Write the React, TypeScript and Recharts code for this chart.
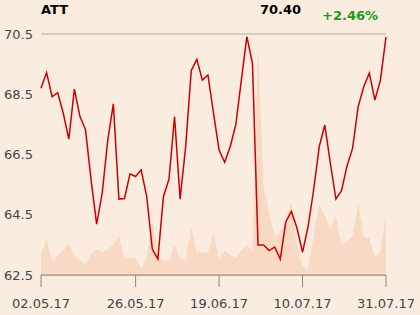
import { ComposedChart, Line, Area, XAxis, YAxis, CartesianGrid } from 'recharts';

const dates = [
  '02.05.17', '03.05.17', '04.05.17', '05.05.17', '08.05.17', '09.05.17', '10.05.17', '11.05.17', '12.05.17',
  '15.05.17', '16.05.17', '17.05.17', '18.05.17', '19.05.17', '22.05.17', '23.05.17', '24.05.17', '26.05.17',
  '29.05.17', '30.05.17', '31.05.17', '01.06.17', '02.06.17', '06.06.17', '07.06.17', '08.06.17', '09.06.17',
  '12.06.17', '13.06.17', '14.06.17', '15.06.17', '16.06.17', '19.06.17',
  '20.06.17', '21.06.17', '22.06.17', '23.06.17', '26.06.17', '27.06.17', '28.06.17', '29.06.17', '30.06.17',
  '03.07.17', '04.07.17', '05.07.17', '06.07.17', '07.07.17', '10.07.17',
  '11.07.17', '12.07.17', '13.07.17', '14.07.17', '17.07.17', '18.07.17', '19.07.17', '20.07.17', '21.07.17',
  '24.07.17', '25.07.17', '26.07.17', '27.07.17', '28.07.17', '31.07.17',
];

const prices = [
  68.70, 69.22, 68.42, 68.55, 67.87, 67.01, 68.67, 67.76, 67.32, 65.66,
  64.19, 65.22, 66.98, 68.18, 65.02, 65.04, 65.86, 65.77, 65.99, 65.10,
  63.36, 63.03, 65.10, 65.68, 67.76, 65.02, 66.76, 69.28, 69.66, 68.97,
  69.14, 67.87, 66.65, 66.24, 66.76, 67.48, 68.97, 70.41, 69.53, 63.50,
  63.50, 63.31, 63.43, 63.03, 64.27, 64.61, 64.06, 63.25, 64.11, 65.33,
  66.76, 67.48, 66.21, 65.02, 65.30, 66.12, 66.71, 68.09, 68.75, 69.20,
  68.31, 68.97, 70.40,
];

// volume in millions
const volumes = [
  4.2, 7.6, 2.8, 4.0, 5.1, 6.5, 4.0, 3.0, 2.0, 4.4,
  5.2, 4.7, 5.3, 6.3, 8.2, 3.4, 3.7, 3.4, 1.3, 3.7,
  11.3, 4.0, 3.0, 3.0, 6.3, 3.5, 3.0, 9.9, 4.7, 4.7,
  4.6, 8.9, 3.4, 5.1, 4.2, 3.5, 5.1, 6.1, 5.1, 47.3,
  18.6, 12.6, 8.0, 8.8, 11.7, 15.0, 6.1, 1.8, 1.3, 8.2,
  14.8, 12.3, 9.6, 12.3, 6.1, 7.0, 8.2, 14.8, 8.0, 7.6,
  3.6, 4.9, 12.3,
];

const xTicks = ['02.05.17', '26.05.17', '19.06.17', '10.07.17', '31.07.17'];
const yTicks = [62.5, 64.5, 66.5, 68.5, 70.5];

const data = dates.map((d, i) => ({ date: d, price: prices[i], volume: volumes[i] }));

const font = 'DejaVu Sans, sans-serif';

export default function App() {
  return (
    <div style={{ position: 'absolute', left: 0, top: 0, width: 420, height: 315, background: '#fbece0', fontFamily: font }}>
      <div style={{ position: 'absolute', left: 41, top: 2, fontSize: 13, fontWeight: 'bold', color: '#000' }}>ATT</div>
      <div style={{ position: 'absolute', left: 260, top: 2, fontSize: 13, fontWeight: 'bold', color: '#000' }}>70.40</div>
      <div style={{ position: 'absolute', left: 322, top: 8, fontSize: 13, fontWeight: 'bold', color: '#1a9a1a' }}>+2.46%</div>
      <ComposedChart width={420} height={315} data={data} margin={{ top: 34, right: 34, left: 0, bottom: 0 }}>
        <CartesianGrid vertical={false} stroke="#b0aaa6" />
        <XAxis
          dataKey="date"
          ticks={xTicks}
          interval={0}
          height={40}
          tickSize={12}
          tickMargin={12}
          stroke="#8a8683"
          tick={{ fill: '#444', fontSize: 13, fontFamily: font }}
        />
        <YAxis
          yAxisId="price"
          domain={[62.5, 70.5]}
          ticks={yTicks}
          width={41}
          axisLine={false}
          tickLine={false}
          tickSize={0}
          tickMargin={8}
          tickFormatter={(v: number) => v.toFixed(1)}
          tick={{ fill: '#444', fontSize: 13, fontFamily: font }}
        />
        <YAxis yAxisId="vol" domain={[0, 50]} hide />
        <Area
          yAxisId="vol"
          dataKey="volume"
          type="linear"
          fill="#f8d9c3"
          fillOpacity={1}
          stroke="none"
          isAnimationActive={false}
        />
        <Line
          yAxisId="price"
          dataKey="price"
          type="linear"
          stroke="#cc0000"
          strokeWidth={1.5}
          dot={false}
          isAnimationActive={false}
        />
      </ComposedChart>
    </div>
  );
}
